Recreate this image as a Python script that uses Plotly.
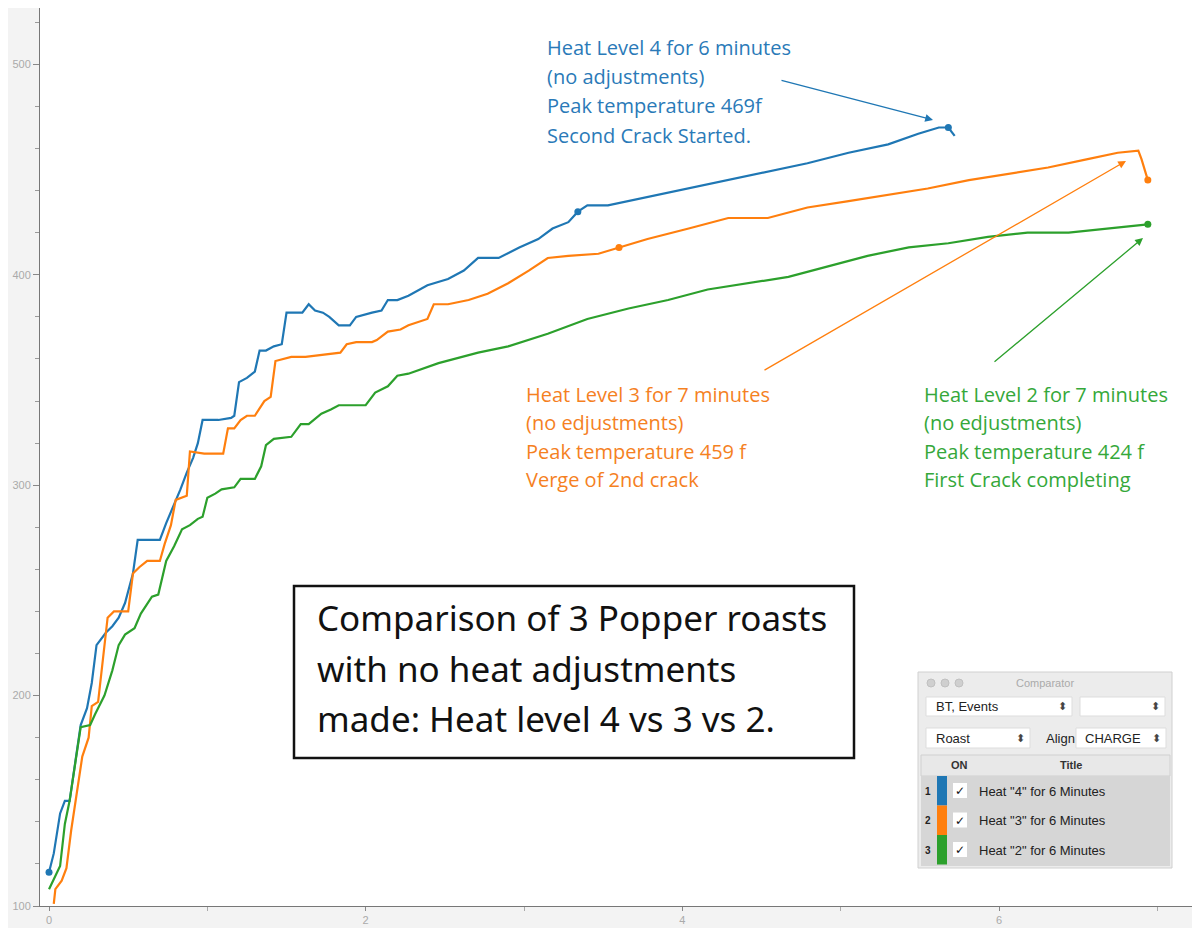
import plotly.graph_objects as go

blue_x = [0,0.03,0.07,0.1,0.13,0.2,0.24,0.27,0.3,0.36,0.4,0.44,0.48,0.53,0.56,0.7,0.74,0.78,0.83,0.87,0.91,0.94,0.97,1.03,1.07,1.15,1.17,1.2,1.25,1.3,1.33,1.37,1.42,1.47,1.5,1.6,1.64,1.68,1.73,1.77,1.83,1.9,1.94,2.04,2.1,2.14,2.2,2.27,2.39,2.52,2.62,2.71,2.84,2.97,3.09,3.18,3.28,3.34,3.4,3.53,3.78,4.04,4.29,4.54,4.79,5.05,5.3,5.49,5.62,5.68,5.72]
blue_y = [116,125,144,150,150,186,194,206,224,230,233,237,244,258,274,274,282,289,298,306,313,320,331,331,331,332,333,349,351,354,364,364,366,367,382,382,386,383,382,380,376,376,380,382,383,388,388,390,395,398,402,408,408,413,417,422,425,430,433,433,437,441,445,449,453,458,462,467,470,470,466]
orange_x = [0.03,0.04,0.08,0.11,0.14,0.18,0.21,0.25,0.27,0.31,0.34,0.37,0.41,0.5,0.53,0.57,0.62,0.7,0.73,0.77,0.8,0.87,0.89,0.98,1.1,1.13,1.17,1.21,1.25,1.3,1.36,1.4,1.43,1.49,1.53,1.62,1.84,1.88,1.94,2.04,2.07,2.14,2.22,2.27,2.39,2.43,2.52,2.65,2.77,2.9,3.03,3.15,3.28,3.47,3.6,3.78,4.04,4.29,4.54,4.79,5.05,5.3,5.55,5.81,6.06,6.31,6.56,6.75,6.88,6.9,6.94]
orange_y = [101,108,112,118,136,156,171,180,195,197,218,237,240,240,258,261,264,264,272,281,293,295,316,315,315,327,327,331,333,333,340,342,359,360,361,361,363,367,368,368,369,373,374,376,379,386,386,388,391,396,402,408,409,410,413,417,422,427,427,432,435,438,441,445,448,451,455,458,459,455,445]
green_x = [0.0,0.07,0.1,0.13,0.2,0.26,0.29,0.35,0.4,0.44,0.48,0.54,0.58,0.65,0.69,0.74,0.79,0.84,0.89,0.94,0.97,1.0,1.05,1.09,1.17,1.21,1.3,1.34,1.37,1.42,1.53,1.59,1.64,1.72,1.78,1.83,2.0,2.06,2.14,2.2,2.27,2.46,2.71,2.9,3.15,3.4,3.66,3.91,4.16,4.42,4.67,4.92,5.17,5.43,5.68,5.93,6.18,6.44,6.69,6.94]
green_y = [108,119,139,150,185,186,191,200,212,224,229,232,239,247,248,264,271,279,281,284,285,294,296,298,299,303,303,309,319,322,323,329,329,334,336,338,338,344,347,352,353,358,363,366,372,379,384,388,393,396,399,404,409,413,415,418,420,420,422,424]
mark_blue_x, mark_blue_y = [0, 3.34, 5.68], [116, 430, 470]
mark_orange_x, mark_orange_y = [3.6, 6.94], [413, 445]
mark_green_x, mark_green_y = [6.94], [424]

BLUE, ORANGE, GREEN = "#1f77b4", "#ff7f0e", "#2ca02c"
fig = go.Figure()
for xs, ys, c in [(blue_x, blue_y, BLUE), (orange_x, orange_y, ORANGE), (green_x, green_y, GREEN)]:
    fig.add_trace(go.Scatter(x=xs, y=ys, mode="lines", line=dict(color=c, width=2.2), showlegend=False))
for xs, ys, c in [(mark_blue_x, mark_blue_y, BLUE), (mark_orange_x, mark_orange_y, ORANGE), (mark_green_x, mark_green_y, GREEN)]:
    fig.add_trace(go.Scatter(x=xs, y=ys, mode="markers", marker=dict(color=c, size=7), showlegend=False))

L, T, W, H = 32, 0, 1168, 898
def px(x): return (x - L) / W
def py(y): return (T + H - y) / H

ann = []
def txt(x, y, s, size, color, font="Open Sans", anchor="left"):
    ann.append(dict(xref="paper", yref="paper", x=px(x), y=py(y), text=s, showarrow=False,
                    xanchor=anchor, yanchor="middle", font=dict(size=size, color=color, family=font)))
for i, s in enumerate(["Heat Level 4 for 6 minutes", "(no adjustments)", "Peak temperature 469f", "Second Crack Started."]):
    txt(537, 40 + i * 29, s, 20, "#2a7ab8")
for i, s in enumerate(["Heat Level 3 for 7 minutes", "(no edjustments)", "Peak temperature 459 f", "Verge of 2nd crack"]):
    txt(516, 386 + i * 28.5, s, 20, "#f5811f")
for i, s in enumerate(["Heat Level 2 for 7 minutes", "(no edjustments)", "Peak temperature 424 f", "First Crack completing"]):
    txt(914, 386 + i * 28.5, s, 20, "#35a83a")
def arrow(x0, y0, x1, y1, c):
    ann.append(dict(xref="paper", yref="paper", axref="pixel", ayref="pixel", x=px(x1), y=py(y1),
                    ax=x0 - x1, ay=y0 - y1, showarrow=True, arrowhead=2, arrowsize=1.2,
                    arrowwidth=1.3, arrowcolor=c, text=""))
arrow(772, 72, 925, 112, BLUE)
arrow(755, 363, 1118, 153, ORANGE)
arrow(985, 355, 1135, 230, GREEN)

for i, s in enumerate(["Comparison of 3 Popper roasts", "with no heat adjustments", "made: Heat level 4 vs 3 vs 2."]):
    txt(307, 610 + i * 50, s, 35, "#111", font="Noto Sans")

shapes = [dict(type="rect", xref="paper", yref="paper", x0=px(286), x1=px(846), y0=py(750), y1=py(578),
               line=dict(color="#111", width=2.5), fillcolor="white")]
def rect(x0, y0, x1, y1, fill, line="rgba(0,0,0,0)", lw=1, layer="above"):
    shapes.append(dict(type="rect", xref="paper", yref="paper", x0=px(x0), x1=px(x1), y0=py(y1), y1=py(y0),
                       fillcolor=fill, line=dict(color=line, width=lw), layer=layer))
# Comparator panel
rect(910, 664, 1164, 860, "#ececec", "#d0d0d0")
for cx in (923, 937, 951):
    shapes.append(dict(type="circle", xref="paper", yref="paper", x0=px(cx - 4), x1=px(cx + 4), y0=py(679), y1=py(671),
                       fillcolor="#cfcfcf", line=dict(color="#c0c0c0", width=1)))
txt(1037, 675, "Comparator", 11, "#aaa", font="Liberation Sans", anchor="center")
rect(918, 689, 1064, 708, "white", "#ddd")
rect(1072, 689, 1157, 708, "white", "#ddd")
rect(918, 720, 1022, 740, "white", "#ddd")
rect(1068, 720, 1158, 740, "white", "#ddd")
txt(926, 698, "BT, Events", 13, "#222", "Liberation Sans")
txt(1054, 698, "⬍", 11, "#444", "DejaVu Sans", "center")
txt(1147, 698, "⬍", 11, "#444", "DejaVu Sans", "center")
txt(926, 730, "Roast", 13, "#222", "Liberation Sans")
txt(1012, 730, "⬍", 11, "#444", "DejaVu Sans", "center")
txt(1036, 730, "Align", 13, "#222", "Liberation Sans")
txt(1075, 730, "CHARGE", 13, "#222", "Liberation Sans")
txt(1148, 730, "⬍", 11, "#444", "DejaVu Sans", "center")
rect(913, 747, 1162, 768, "#e8e8e8", "#d0d0d0")
txt(951, 757, "<b>ON</b>", 11, "#333", "Liberation Sans", "center")
txt(1063, 757, "<b>Title</b>", 11, "#333", "Liberation Sans", "center")
rect(913, 768, 1162, 858, "#d6d6d6")
for i, (c, s) in enumerate([(BLUE, 'Heat "4" for 6 Minutes'), (ORANGE, 'Heat "3" for 6 Minutes'), (GREEN, 'Heat "2" for 6 Minutes')]):
    y0 = 768 + i * 29.5
    rect(929, y0, 939, y0 + 29.5, c)
    rect(945, y0 + 7, 959, y0 + 22, "white")
    txt(920, y0 + 15, "<b>%d</b>" % (i + 1), 10, "#222", "Liberation Sans", "center")
    txt(952, y0 + 15, "✓", 12, "#111", "DejaVu Sans", "center")
    txt(969, y0 + 15, s, 13, "#222", "Liberation Sans")

fig.update_layout(
    width=1200, height=928, margin=dict(l=L, r=0, t=T, b=30),
    paper_bgcolor="#f3f3f3", plot_bgcolor="white",
    annotations=ann, shapes=shapes,
    xaxis=dict(range=[-0.057, 7.32], tickvals=[0, 2, 4, 6], showgrid=False, zeroline=False,
               showline=True, linecolor="#777", ticks="outside", ticklen=4, tickcolor="#888",
               minor=dict(tickvals=[1, 3, 5, 7], ticks="outside", ticklen=4, tickcolor="#aaa"),
               tickfont=dict(size=11, color="#aaa", family="Liberation Sans")),
    yaxis=dict(range=[100, 526.8], tickvals=[100, 200, 300, 400, 500], showgrid=False, zeroline=False,
               showline=True, linecolor="#777", ticks="outside", ticklen=6, tickcolor="#888",
               minor=dict(dtick=20, ticks="outside", ticklen=4, tickcolor="#999"),
               tickfont=dict(size=11, color="#aaa", family="Liberation Sans")),
)
fig.write_html("out.html")
